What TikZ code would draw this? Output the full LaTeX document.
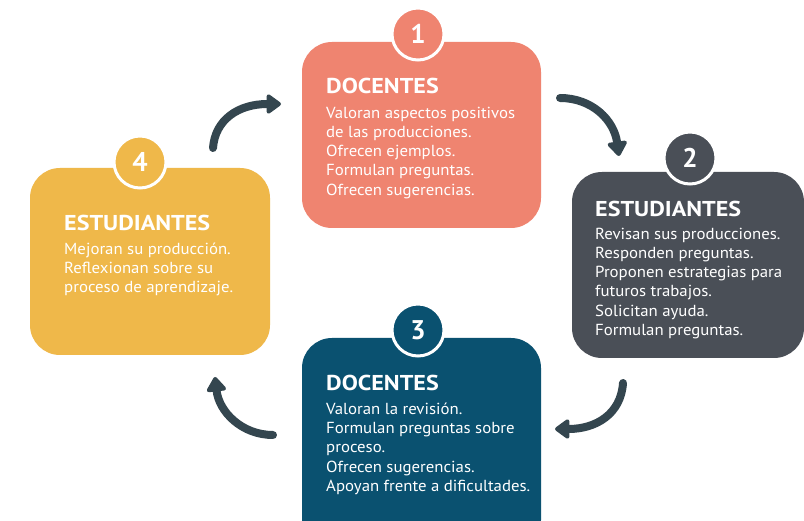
\documentclass[tikz,border=0pt]{standalone}
\usepackage{fontspec}
\setmainfont{PT Sans}
\newfontfamily\titlefont[FakeStretch=1.12]{PT Sans}
\newfontfamily\bodyfont[FakeStretch=1.05]{PT Sans}
\usetikzlibrary{arrows.meta}
\definecolor{coral}{HTML}{EF8470}
\definecolor{slate}{HTML}{4A4F57}
\definecolor{teal}{HTML}{0A5170}
\definecolor{mustard}{HTML}{EFB84A}
\definecolor{arrowc}{HTML}{34464F}
\tikzset{
  card/.style={rounded corners=30pt, draw=none},
  badge/.style={circle, draw=white, line width=3pt, minimum size=52pt, inner sep=0pt, text=white, font=\bfseries\fontsize{27}{27}\selectfont},
  title/.style={anchor=base west, text=white, inner sep=0pt, font=\titlefont\bfseries\fontsize{21.5}{21.5}\selectfont},
  body/.style={anchor=north west, text=white, inner sep=0pt, align=left, font=\bodyfont\fontsize{16}{19.3}\selectfont},
  flow/.style={draw=arrowc, line width=8pt, line cap=round, -{Triangle[length=16pt,width=22pt,round]}},
}
\begin{document}
\begin{tikzpicture}[x=1pt,y=-1pt]
\useasboundingbox[fill=white] (0,0) rectangle (804,521);
% cards
\fill[coral, card] (302,42) rectangle (541,228);
\fill[slate, card] (572,172) rectangle (804,358);
\fill[teal, card] (302,338) rectangle (541,550);
\fill[mustard, card] (30,168) rectangle (270,355);
% badges
\node[badge, fill=coral] (b1) at (418,34) {1};
\node[badge, fill=slate] (b2) at (690,158) {2};
\node[badge, fill=teal] (b3) at (418,330) {3};
\node[badge, fill=mustard] (b4) at (140,162) {4};
% texts
\node[title] (t1) at (326,94) {DOCENTES};
\node[body] (c1) at (326,106.5) {Valoran aspectos positivos\\de las producciones.\\Ofrecen ejemplos.\\Formulan preguntas.\\Ofrecen sugerencias.};
\node[title] (t2) at (595,217) {ESTUDIANTES};
\node[body] (c2) at (595,227.5) {Revisan sus producciones.\\Responden preguntas.\\Proponen estrategias para\\futuros trabajos.\\Solicitan ayuda.\\Formulan preguntas.};
\node[title] (t3) at (326,391) {DOCENTES};
\node[body] (c3) at (326,402.5) {Valoran la revisión.\\Formulan preguntas sobre\\proceso.\\Ofrecen sugerencias.\\Apoyan frente a dificultades.};
\node[title] (t4) at (64,231) {ESTUDIANTES};
\node[body] (c4) at (64,242.5) {Mejoran su producción.\\Reflexionan sobre su\\proceso de aprendizaje.};
% arrows
\coordinate (a1s) at (213,148); \coordinate (a1e) at (281,104);
\coordinate (a2s) at (560,98);  \coordinate (a2e) at (619,156);
\coordinate (a3s) at (623,383); \coordinate (a3e) at (555,429);
\coordinate (a4s) at (273,435); \coordinate (a4e) at (215,377);
\draw[flow] (a1s) .. controls (215,120) and (238,104) .. (a1e);
\draw[flow] (a2s) .. controls (592,98) and (614,120) .. (a2e);
\draw[flow] (a3s) .. controls (621,414) and (596,429) .. (a3e);
\draw[flow] (a4s) .. controls (242,435) and (219,412) .. (a4e);
\end{tikzpicture}
\end{document}
